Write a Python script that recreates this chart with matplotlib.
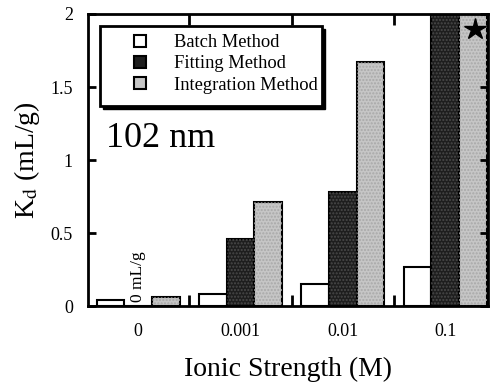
import numpy as np
import matplotlib.pyplot as plt
from matplotlib.ticker import FixedLocator
from matplotlib.patches import Rectangle

plt.rcParams['font.family'] = ['Liberation Serif', 'DejaVu Serif']
plt.rcParams['mathtext.fontset'] = 'stix'

# dati
strengths = ['0', '0.001', '0.01', '0.1']
batch = [0.04, 0.08, 0.15, 0.27]
fitting = [0.0, 0.46, 0.78, 2.2]
integration = [0.06, 0.71, 1.67, 2.2]
star_y = 1.90

x = np.arange(len(strengths))
w = 0.27

fig = plt.figure(figsize=(4.92, 3.88), dpi=100)
ax = fig.add_axes([0.179, 0.211, 0.813, 0.753])

ax.bar(x - w, batch, w, color='white', edgecolor='black', lw=1.5, label='Batch Method')
ax.bar(x, fitting, w, color='#1e1e1e', edgecolor='black', lw=1.5, label='Fitting Method')
ax.bar(x + w, integration, w, color='#c6c6c6', edgecolor='black', lw=1.5, label='Integration Method')
# texture leggera
ax.bar(x, fitting, w, fill=False, hatch='.....', edgecolor='#4a4a4a', lw=0)
ax.bar(x + w, integration, w, fill=False, hatch='.....', edgecolor='#a8a8a8', lw=0)
ax.plot(x[-1] + w + 0.02, star_y, marker='*', color='black', ms=16, ls='none')

ax.text(x[0], 0.03, '0 mL/g', rotation=90, ha='center', va='bottom', fontsize=12.5)
ax.text(0.045, 0.545, '102 nm', transform=ax.transAxes, fontsize=26, va='baseline')

ax.set_xlim(-0.49, 3.42)
ax.set_ylim(0, 2)
ax.set_xticks(x)
ax.set_xticklabels(strengths, fontsize=13)
ax.xaxis.set_minor_locator(FixedLocator([0.5, 1.5, 2.5]))
ax.tick_params(axis='x', which='major', length=0, pad=12)
ax.tick_params(axis='x', which='minor', direction='in', length=8, width=2, top=True, bottom=True)
ax.set_yticks([0, 0.5, 1, 1.5, 2])
ax.set_yticklabels(['0', '0.5', '1', '1.5', '2'], fontsize=13)
ax.tick_params(axis='y', direction='in', length=6, width=2, left=True, right=True, pad=11)
for s in ax.spines.values():
    s.set_linewidth(2)

ax.set_xlabel('Ionic Strength (M)', fontsize=20, labelpad=12)
ax.set_ylabel('K$_\\mathrm{d}$ (mL/g)', fontsize=20, labelpad=6)

# cornice della legenda con ombra
ax.add_patch(Rectangle((0.038, 0.675), 0.555, 0.275, transform=ax.transAxes,
                       facecolor='black', edgecolor='black', zorder=4))
ax.add_patch(Rectangle((0.03, 0.685), 0.555, 0.275, transform=ax.transAxes,
                       facecolor='white', edgecolor='black', lw=2, zorder=5))
leg = ax.legend(loc='upper left', bbox_to_anchor=(0.115, 0.93), borderaxespad=0,
                fontsize=13.3, frameon=False,
                handlelength=0.65, handleheight=0.65, handletextpad=1.5,
                borderpad=0, labelspacing=0.22)
leg.set_zorder(6)

fig.savefig('out.png', dpi=100)
